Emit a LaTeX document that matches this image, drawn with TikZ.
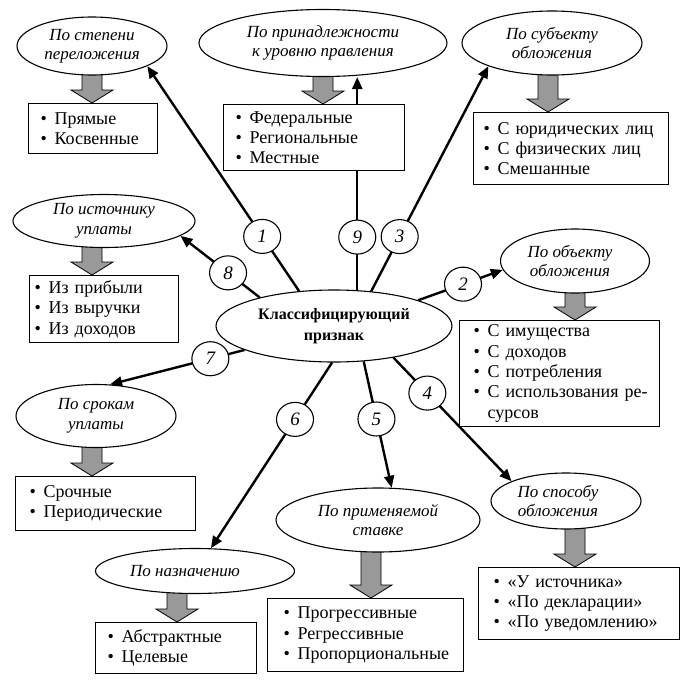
\documentclass[tikz,border=0pt]{standalone}
\usepackage{fontspec}
\setmainfont{Liberation Serif}
\usetikzlibrary{arrows.meta,shapes.geometric,calc}
\pgfdeclarelayer{bg}
\pgfsetlayers{bg,main}
\newcommand\itm[1]{\mbox{\makebox[14pt][l]{\textbullet}#1}}
\newcommand\garrow[3]{\draw[garr] (#1-10,#2) -- (#1-10,#3-13) -- (#1-21,#3-13) -- (#1,#3) -- (#1+21,#3-13) -- (#1+10,#3-13) -- (#1+10,#2) -- cycle;}
\begin{document}
\begin{tikzpicture}[x=1pt,y=-1pt,
 ell/.style={draw, ellipse, fill=white, line width=1.1pt, inner sep=0pt},
 etxt/.style={font=\fontsize{17}{19.5}\selectfont\itshape, align=center, inner sep=0pt},
 box/.style={draw, fill=white, line width=1.1pt, anchor=north west, align=left, inner ysep=0pt, font=\fontsize{18}{20.3}\selectfont},
 num/.style={draw, ellipse, fill=white, line width=1.1pt, minimum width=37pt, minimum height=34pt, inner sep=0pt, font=\fontsize{19}{19}\selectfont\itshape},
 conn/.style={line width=2.4pt, -{Triangle[length=12pt,width=10pt]}},
 garr/.style={fill=black!40, draw=black, line width=0.8pt, line join=miter}]
\useasboundingbox (0,0) rectangle (689,689);

% central
\node[ell, minimum width=236pt, minimum height=72pt] (cen) at (334,326) {};
\node[font=\fontsize{16}{21}\selectfont\bfseries, align=center, inner sep=0pt] (cent) at (cen) {Классифицирующий\\признак};

% ellipses
\node[ell, minimum width=150pt, minimum height=58pt] (e1) at (92,46) {};
\node[etxt] (e1t) at (e1) {По степени\\переложения};
\node[ell, minimum width=248pt, minimum height=67pt] (e9) at (323,43) {};
\node[etxt] (e9t) at (e9) {По принадлежности\\к уровню правления};
\node[ell, minimum width=180pt, minimum height=64pt] (e3) at (552,43) {};
\node[etxt] (e3t) at (e3) {По субъекту\\обложения};
\node[ell, minimum width=182pt, minimum height=53pt] (e8) at (104,221) {};
\node[etxt] (e8t) at (e8) {По источнику\\уплаты};
\node[ell, minimum width=149pt, minimum height=64pt] (e2) at (575,261) {};
\node[etxt] (e2t) at ($(e2)+(-5,0)$) {По объекту\\обложения};
\node[ell, minimum width=160pt, minimum height=63pt] (e7) at (96,416) {};
\node[etxt] (e7t) at (e7) {По срокам\\уплаты};
\node[ell, minimum width=199pt, minimum height=45pt] (e6) at (195,571) {};
\node[etxt] (e6t) at ($(e6)+(-10,0)$) {По назначению};
\node[ell, minimum width=204pt, minimum height=64pt] (e5) at (378,520) {};
\node[etxt] (e5t) at (e5) {По применяемой\\ставке};
\node[ell, minimum width=150pt, minimum height=56pt] (e4) at (566,501) {};
\node[etxt] (e4t) at ($(e4)+(-8,0)$) {По способу\\обложения};

% boxes
\node[box, text width=105pt, inner xsep=12pt, minimum height=50pt] (b1) at (28,103) {\itm{Прямые}\\\itm{Косвенные}};
\node[box, text width=157pt, inner xsep=12pt, minimum height=66pt] (b9) at (223,104) {\itm{Федеральные}\\\itm{Региональные}\\\itm{Местные}};
\node[box, text width=175pt, inner xsep=10pt, minimum height=72pt] (b3) at (473,112) {\itm{С юридических лиц}\\\itm{С физических лиц}\\\itm{Смешанные}};
\node[box, text width=139pt, inner xsep=5pt, minimum height=67pt] (b8) at (29,275) {\itm{Из прибыли}\\\itm{Из выручки}\\\itm{Из доходов}};
\node[box, text width=172pt, inner xsep=14pt, minimum height=106pt] (b2) at (459,320) {\itm{С имущества}\\\itm{С доходов}\\\itm{С потребления}\\\itm{С использования ре-}\\\hspace*{14pt}сурсов};
\node[box, text width=152pt, inner xsep=14pt, minimum height=54pt] (b7) at (15,476) {\itm{Срочные}\\\itm{Периодические}};
\node[box, text width=137pt, inner xsep=12pt, minimum height=51pt] (b6) at (95,622) {\itm{Абстрактные}\\\itm{Целевые}};
\node[box, text width=164pt, inner xsep=16pt, minimum height=73pt] (b5) at (267,598) {\itm{Прогрессивные}\\\itm{Регрессивные}\\\itm{Пропорциональные}};
\node[box, text width=171pt, inner xsep=15pt, minimum height=72pt] (b4) at (478,567) {\itm{«У источника»}\\\itm{«По декларации»}\\\itm{«По уведомлению»}};

\begin{pgfonlayer}{bg}
\draw[conn] (cen.135) -- node[num,pos=0.243] (n1) {1} (e1.340);
\draw[conn] (cen.57) -- node[num,pos=0.249] (n9) {9} (cen.57 |- e9.south);
\draw[conn] (cen.43) -- node[num,pos=0.243] (n3) {3} (e3.200);
\draw[conn] (cen.159) -- node[num,pos=0.4] (n8) {8} (e8.349);
\draw[conn] (cen.17) -- node[num,pos=0.53] (n2) {2} (e2.187);
\draw[conn] (cen.195) -- node[num,pos=0.254] (n7) {7} (e7.66);
\draw[conn] (cen.267) -- node[num,pos=0.306] (n6) {6} (e6.55);
\draw[conn] (cen.310) -- node[num,pos=0.456] (n5) {5} (e5.67);
\draw[conn] (cen.332) -- node[num,pos=0.287] (n4) {4} (e4.160);
\garrow{92}{68}{103}
\garrow{323}{70}{104}
\garrow{548}{68}{112}
\garrow{92}{240}{275}
\garrow{575}{286}{320}
\garrow{92}{440}{476}
\garrow{177}{586}{622}
\garrow{371}{545}{598}
\garrow{575}{522}{567}
\end{pgfonlayer}
\end{tikzpicture}
\end{document}
